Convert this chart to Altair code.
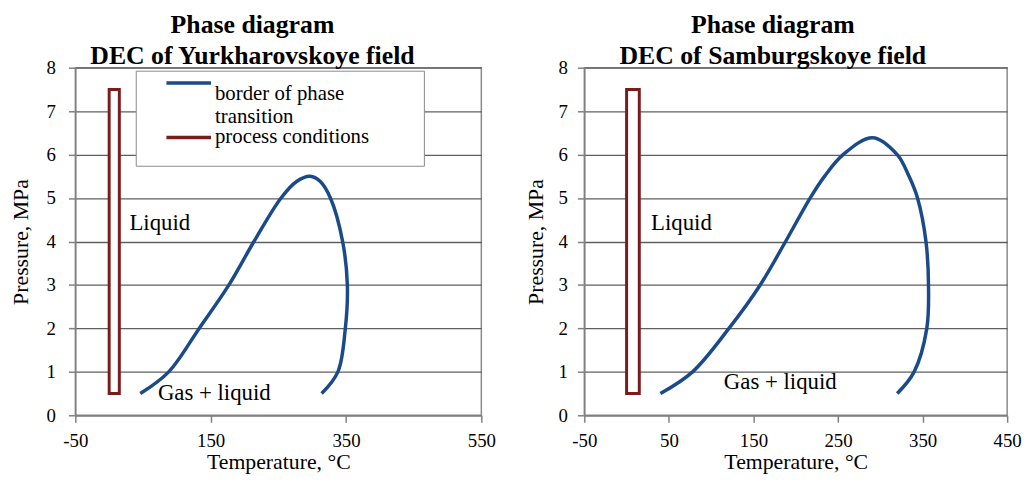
import altair as alt
import pandas as pd

# ---- data ----
yur_T = [46, 88, 133, 177, 214, 254, 277, 297, 312, 327, 345, 352, 349, 338, 314]
yur_P = [0.5, 1, 2, 3, 4, 5, 5.38, 5.5, 5.38, 5, 4, 3, 2, 1, 0.5]

sam_T = [40, 78, 121, 158, 188, 217, 234, 256, 291, 320, 334, 344, 354, 357, 355, 340, 320]
sam_P = [0.5, 1, 2, 3, 4, 5, 5.5, 6, 6.39, 6, 5.5, 5, 4, 3, 2, 1, 0.5]

proc_T = [0, 15]
proc_P = [0.5, 7.5]

series_names = ["border of phase transition", "process conditions"]
series_colors = ["#1b4a8a", "#7a1c1c"]

yur_labels = ["Liquid", "Gas + liquid"]
yur_label_T = [30, 72]
yur_label_P = [4.42, 0.52]
sam_labels = ["Liquid", "Gas + liquid"]
sam_label_T = [29, 115]
sam_label_P = [4.43, 0.76]

yur_xticks = [-50, 150, 350, 550]
sam_xticks = [-50, 50, 150, 250, 350, 450]
yticks = [0, 1, 2, 3, 4, 5, 6, 7, 8]

FONT = "Liberation Serif"
PAD_TAIL = "\u00a0" * 10 + "\u200b"


def panel(title_line2, curve_T, curve_P, lab, lab_T, lab_P, xticks, width,
          show_legend, y_label_pad, y_title_pad):
    curve = pd.DataFrame({"T": curve_T, "P": curve_P,
                          "i": list(range(len(curve_T))),
                          "series": series_names[0]})
    rect = pd.DataFrame({"T": [proc_T[0]], "T2": [proc_T[1]],
                         "P": [proc_P[0]], "P2": [proc_P[1]],
                         "series": [series_names[1]]})
    labels = pd.DataFrame({"T": lab_T, "P": lab_P, "text": lab})

    xscale = alt.Scale(domain=[xticks[0], xticks[-1]], nice=False, zero=False)
    yscale = alt.Scale(domain=[0, 8], nice=False)
    xaxis = alt.Axis(values=xticks, title="Temperature, °C", grid=False,
                     labelExpr="datum.value", labelFlush=False,
                     tickSize=7, labelPadding=10, titlePadding=1)
    yaxis = alt.Axis(values=yticks, title="Pressure, MPa", grid=True,
                     labelExpr="datum.value",
                     tickSize=7, labelPadding=y_label_pad, titlePadding=y_title_pad)

    if show_legend:
        legend = alt.Legend(
            title=" ", titleOrient="bottom", titlePadding=12, titleFontSize=4,
            orient="none", legendX=61, legendY=3,
            symbolType="M-4,0H4", symbolSize=126.6, symbolStrokeWidth=3.5,
            symbolOffset=41, labelOffset=16,
            labelFont=FONT, labelFontSize=21, labelColor="#000",
            labelExpr="datum.label == 'border of phase transition' ? ['border of phase', 'transition'] : datum.label + '" + PAD_TAIL + "'",
            labelBaseline={"expr": "datum.index == 0 ? 'top' : 'middle'"},
            labelLimit=400,
            strokeColor="#8a8a8a", fillColor="white", padding=2,
            rowPadding=-16,
        )
    else:
        legend = None

    stroke = alt.Stroke("series:N",
                        scale=alt.Scale(domain=series_names, range=series_colors),
                        legend=legend)

    line = alt.Chart(curve).mark_line(strokeWidth=3.5, interpolate="catmull-rom").encode(
        x=alt.X("T:Q", scale=xscale, axis=xaxis),
        y=alt.Y("P:Q", scale=yscale, axis=yaxis),
        order="i:Q",
        stroke=stroke,
    )
    box = alt.Chart(rect).mark_rect(fill="white", fillOpacity=1, strokeWidth=3).encode(
        x="T:Q", x2="T2:Q", y="P:Q", y2="P2:Q", stroke=stroke,
    )
    text = alt.Chart(labels).mark_text(align="left", baseline="middle",
                                       font=FONT, fontSize=23, color="#000").encode(
        x="T:Q", y="P:Q", text="text:N",
    )
    return alt.layer(line, box, text).properties(
        width=width, height=351,
        title=alt.TitleParams(text=["Phase diagram", title_line2], font=FONT,
                              fontSize=26, fontWeight="bold", lineHeight=31,
                              offset=-10, anchor="middle", frame="bounds",
                              color="#000"),
    )


left = panel("DEC of Yurkharovskoye field", yur_T, yur_P, yur_labels, yur_label_T,
             yur_label_P, yur_xticks, 410, True, 13, 14)
right = panel("DEC of Samburgskoye field", sam_T, sam_P, sam_labels, sam_label_T,
              sam_label_P, sam_xticks, 427, False, 10, 11)

chart = alt.hconcat(left, right, spacing=27).resolve_scale(
    x="independent", y="independent", stroke="independent"
).resolve_legend(stroke="independent").properties(
    padding={"left": 0, "top": 1, "right": 0, "bottom": 0}
).configure(background="white").configure_view(
    stroke="#8a8a8a", strokeWidth=1.5
).configure_axis(
    labelFont=FONT, labelFontSize=19, labelColor="#000",
    titleFont=FONT, titleFontSize=22, titleFontWeight="normal", titleColor="#000",
    domainColor="#808080", domainWidth=1.5, tickColor="#808080", tickWidth=1.5,
    gridColor="#5f5f5f", gridWidth=1.3, gridOpacity=1,
)

chart.save("out.html", embed_options={"renderer": "svg", "actions": False})
